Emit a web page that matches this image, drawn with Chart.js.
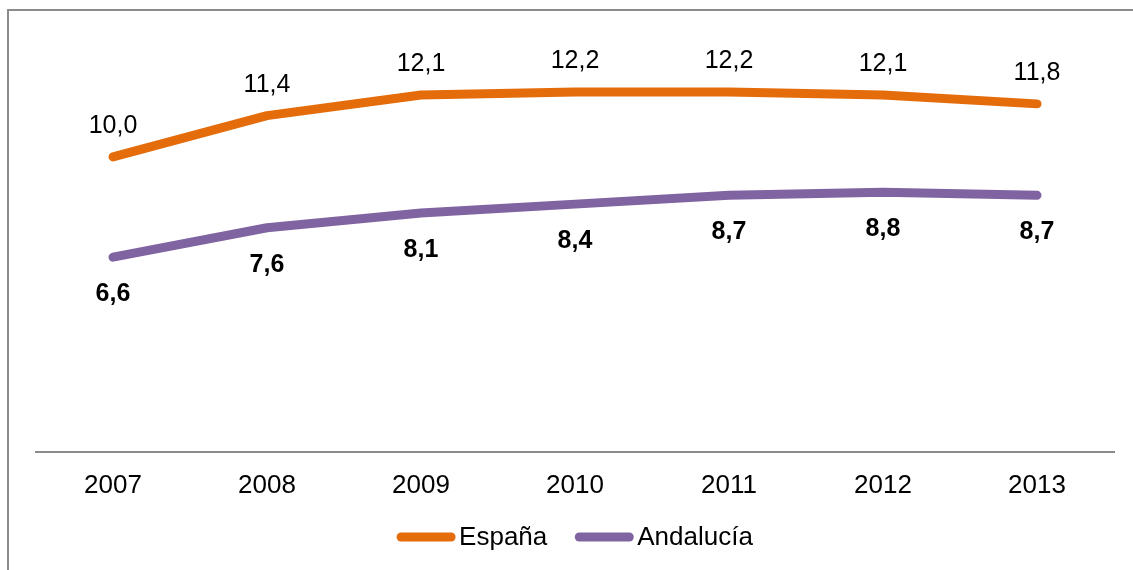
<!DOCTYPE html>
<html>
<head>
<meta charset="utf-8">
<script src="https://cdn.jsdelivr.net/npm/chart.js@4/dist/chart.umd.min.js"></script>
<style>
  html, body { margin: 0; padding: 0; background: #fff; }
  #wrap { position: relative; width: 1133px; height: 570px; }
</style>
</head>
<body>
<div id="wrap"><canvas id="chart" width="1133" height="570"></canvas></div>
<script>
// Data
const years = ['2007', '2008', '2009', '2010', '2011', '2012', '2013'];
const espana = [10.0, 11.4, 12.1, 12.2, 12.2, 12.1, 11.8];
const andalucia = [6.6, 7.6, 8.1, 8.4, 8.7, 8.8, 8.7];

const FONT = '"Liberation Sans", Arial, sans-serif';
const fmt = (v) => v.toFixed(1).replace('.', ',');

// Frame around the chart
const framePlugin = {
    id: 'frame',
    beforeDraw(chart) {
        const ctx = chart.ctx;
        ctx.save();
        ctx.strokeStyle = '#8c8c8c';
        ctx.lineWidth = 2;
        ctx.strokeRect(8, 10, chart.width + 20, chart.height + 20);
        ctx.restore();
    }
};

// Value labels: above for España, bold below for Andalucía
const valueLabels = {
    id: 'valueLabels',
    afterDatasetsDraw(chart) {
        const ctx = chart.ctx;
        ctx.save();
        ctx.fillStyle = '#000';
        ctx.textAlign = 'center';
        ctx.textBaseline = 'middle';
        chart.data.datasets.forEach((ds, i) => {
            const meta = chart.getDatasetMeta(i);
            ctx.font = (i === 0 ? '' : 'bold ') + '25px ' + FONT;
            meta.data.forEach((pt, j) => {
                const dy = i === 0 ? -31 : 37;
                ctx.fillText(fmt(ds.data[j]), pt.x, pt.y + dy);
            });
        });
        ctx.restore();
    }
};

// Legend with round-capped line samples sitting tight against the text
const lineLegend = {
    id: 'lineLegend',
    afterDraw(chart) {
        const ctx = chart.ctx;
        const sample = 58, gap = 4, itemGap = 28;
        ctx.save();
        ctx.font = '26px ' + FONT;
        const items = chart.data.datasets.map(ds => ({
            label: ds.label, color: ds.borderColor, w: ctx.measureText(ds.label).width
        }));
        const total = items.reduce((s, it) => s + sample + gap + it.w, 0) + itemGap * (items.length - 1);
        const area = chart.chartArea;
        let x = (area.left + area.right) / 2 - total / 2;
        const y = 537;
        ctx.textBaseline = 'middle';
        ctx.textAlign = 'left';
        items.forEach(it => {
            ctx.strokeStyle = it.color;
            ctx.lineWidth = 9;
            ctx.lineCap = 'round';
            ctx.beginPath();
            ctx.moveTo(x + 4, y);
            ctx.lineTo(x + sample - 4, y);
            ctx.stroke();
            ctx.fillStyle = '#000';
            ctx.fillText(it.label, x + sample + gap, y + 1);
            x += sample + gap + it.w + itemGap;
        });
        ctx.restore();
    }
};

new Chart(document.getElementById('chart'), {
    type: 'line',
    data: {
        labels: years,
        datasets: [
            {
                label: 'España',
                data: espana,
                borderColor: '#E46C0A',
                backgroundColor: '#E46C0A',
                borderWidth: 9,
                borderCapStyle: 'round',
                borderJoinStyle: 'round',
                pointRadius: 0,
                tension: 0
            },
            {
                label: 'Andalucía',
                data: andalucia,
                borderColor: '#8064A2',
                backgroundColor: '#8064A2',
                borderWidth: 9,
                borderCapStyle: 'round',
                borderJoinStyle: 'round',
                pointRadius: 0,
                tension: 0
            }
        ]
    },
    options: {
        responsive: false,
        animation: false,
        layout: { padding: { left: 36, right: 19, top: 39, bottom: 51 } },
        plugins: {
            legend: { display: false },
            tooltip: { enabled: false }
        },
        scales: {
            x: {
                offset: true,
                grid: { display: false, drawTicks: false },
                border: { display: true, color: '#8c8c8c', width: 2 },
                ticks: {
                    color: '#000',
                    padding: 18,
                    font: { size: 26, family: FONT }
                }
            },
            y: {
                display: false,
                min: 0,
                max: 14
            }
        }
    },
    plugins: [framePlugin, valueLabels, lineLegend]
});
</script>
</body>
</html>
